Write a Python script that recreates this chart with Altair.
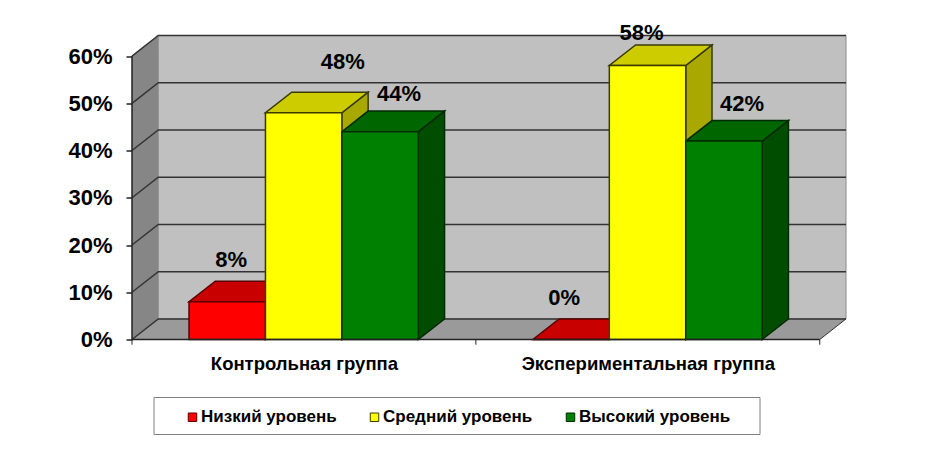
import altair as alt
import pandas as pd

groups = ["Контрольная группа", "Экспериментальная группа"]
levels = ["Низкий уровень", "Средний уровень", "Высокий уровень"]
low = [8, 0]
mid = [48, 58]
high = [44, 42]
y_ticks = [0, 10, 20, 30, 40, 50, 60]

front_colors = ["#FF0000", "#FFFF00", "#008000"]
top_colors = ["#C80000", "#CCCC00", "#006600"]
side_colors = ["#990000", "#A8A800", "#004D00"]
edge_colors = ["#5A0000", "#3A3A00", "#002A00"]

FONT = "Liberation Sans"
W, H = 714, 304
DX = 26.25 / 343.75   # depth of the pseudo-3D box, in group widths
DY = 4.35             # depth of the pseudo-3D box, in percent
GAP = 57 / 343.75
BAR = 76.4 / 343.75
XMAX = 2 + DX
YMAX = 60 + DY

series = [low, mid, high]
fronts, tops, sides = [], [], []
for g, name in enumerate(groups):
    for s, lev in enumerate(levels):
        v = series[s][g]
        x0 = g + GAP + s * BAR
        x1 = x0 + BAR
        key = f"{g}-{s}"
        fronts.append(dict(key=key, level=lev, x=x0, x2=x1, y=0, y2=v))
        for px, a, b in [(x0, v, v), (x0 + DX, v, v + DY), (x1, v, v + DY), (x1 + DX, v + DY, v + DY)]:
            tops.append(dict(key=key, level=lev, x=px, y=a, y2=b))
        for px, a, b in [(x1, 0, v), (x1 + DX, DY, v + DY)]:
            sides.append(dict(key=key, level=lev, x=px, y=a, y2=b))

fronts, tops, sides = map(pd.DataFrame, (fronts, tops, sides))

# label nudges relative to the bar centre, in pixels
nudge_x = [[4, 39, 19], [-7, -6, 18]]
nudge_y = [[42, 51, 38], [41, 32, 37]]
labs = []
for g in range(2):
    for s in range(3):
        v = series[s][g]
        labs.append(dict(
            x=g + GAP + (s + 0.5) * BAR + nudge_x[g][s] / 343.75,
            y=v + nudge_y[g][s] * 60 / 283,
            t=f"{v}%"))
labs = pd.DataFrame(labs)

xs = alt.Scale(domain=[0, XMAX], nice=False, zero=False)
ys = alt.Scale(domain=[0, YMAX], nice=False, zero=False)
x_axis = alt.Axis(
    values=[0.5, 1.5], domain=False, ticks=False, grid=False, labelPadding=24,
    labelExpr=f"datum.value < 1 ? '{groups[0]}' : '{groups[1]}'",
    labelFont=FONT, labelFontWeight="bold", labelFontSize=18.5, labelColor="#000",
    labelBaseline="middle", labelLimit=400, title=None)
y_axis = alt.Axis(
    values=y_ticks, domain=False, grid=False, tickSize=6, tickColor="#222", tickWidth=1.5,
    labelPadding=14, labelExpr="datum.value + '%'",
    labelFont=FONT, labelFontWeight="bold", labelFontSize=22, labelColor="#000", title=None)
X = alt.X("x:Q", scale=xs, axis=x_axis)
Y = alt.Y("y:Q", scale=ys, axis=y_axis, stack=None)

wall = alt.Chart(pd.DataFrame({"x": [DX], "x2": [XMAX], "y": [DY], "y2": [YMAX]})).mark_rect(
    color="#C0C0C0", stroke="#8a8a8a", strokeWidth=1).encode(X, x2="x2:Q", y=Y, y2="y2:Q")

left_wall = alt.Chart(pd.DataFrame({"x": [0, DX], "y": [0, DY], "y2": [60, YMAX]})).mark_area(
    color="#868686").encode(X, Y, y2="y2:Q")

floor = alt.Chart(pd.DataFrame({
    "x": [0, DX, 2, XMAX], "y": [0, 0, 0, DY], "y2": [0, DY, DY, DY]})).mark_area(
    color="#9A9A9A").encode(X, Y, y2="y2:Q")

grid_rows = []
for v in y_ticks:
    for px, py in [(0, v), (DX, v + DY), (XMAX, v + DY)]:
        grid_rows.append(dict(tick=v, x=px, y=py))
grid = alt.Chart(pd.DataFrame(grid_rows)).mark_line(color="#333333", strokeWidth=1.5).encode(
    X, Y, detail="tick:N")

right_diag = alt.Chart(pd.DataFrame({"x": [2, XMAX], "y": [0, DY]})).mark_line(
    color="#333333", strokeWidth=1).encode(X, Y)

axis_h = alt.Chart(pd.DataFrame({"x": [0], "x2": [2], "y": [0]})).mark_rule(
    color="#222222", strokeWidth=1.5).encode(X, x2="x2:Q", y=Y)
axis_v = alt.Chart(pd.DataFrame({"x": [0], "y": [0], "y2": [60]})).mark_rule(
    color="#222222", strokeWidth=1.5).encode(X, Y, y2="y2:Q")
x_ticks = alt.Chart(pd.DataFrame({"x": [0, 1, 2], "y": [0, 0, 0], "y2": [-1.1, -1.1, -1.1]})).mark_rule(
    color="#222222", strokeWidth=1, clip=False).encode(X, Y, y2="y2:Q")

lev_enc = alt.Scale(domain=levels, range=edge_colors)
side_layer = alt.Chart(sides).mark_area(strokeWidth=1.5).encode(
    X, Y, y2="y2:Q", detail="key:N",
    fill=alt.Fill("level:N", scale=alt.Scale(domain=levels, range=side_colors), legend=None),
    stroke=alt.Stroke("level:N", scale=lev_enc, legend=None))
top_layer = alt.Chart(tops).mark_area(strokeWidth=1.5).encode(
    X, Y, y2="y2:Q", detail="key:N",
    fill=alt.Fill("level:N", scale=alt.Scale(domain=levels, range=top_colors), legend=None),
    stroke=alt.Stroke("level:N", scale=lev_enc, legend=None))
front_layer = alt.Chart(fronts).mark_rect(strokeWidth=1.5).encode(
    X, x2="x2:Q", y=Y, y2="y2:Q",
    fill=alt.Fill("level:N", scale=alt.Scale(domain=levels, range=front_colors), legend=alt.Legend(
        orient="none", legendX=52, legendY=373, direction="horizontal", columns=3, title=None,
        symbolType="square", symbolSize=72, symbolStrokeWidth=1, symbolStrokeColor="#222",
        labelFont=FONT, labelFontSize=17, labelFontWeight="bold", labelColor="#000",
        labelOffset=0, columnPadding=29, labelLimit=300, padding=0)),
    stroke=alt.Stroke("level:N", scale=lev_enc, legend=None))

labels = alt.Chart(labs).mark_text(
    font=FONT, fontWeight="bold", fontSize=22, color="#000", baseline="middle", clip=False).encode(
    X, Y, text="t:N")

legend_box = alt.Chart(pd.DataFrame({"x": [0]})).mark_rect(
    fill="#FFFFFF", stroke="#808080", strokeWidth=1, clip=False).encode(
    x=alt.value(22), x2=alt.value(628), y=alt.value(362), y2=alt.value(399))

chart = alt.layer(
    legend_box, wall, left_wall, floor, grid, right_diag,
    side_layer, top_layer, front_layer, axis_h, axis_v, x_ticks, labels,
).resolve_scale(fill="independent", stroke="independent").properties(
    width=W, height=H,
    padding={"left": 124, "top": 27.5, "right": 60, "bottom": 100},
    autosize=alt.AutoSizeParams(type="none"),
    background="#FFFFFF",
).configure_view(stroke=None)

chart.save("out.html", embed_options={"renderer": "svg", "actions": False})
